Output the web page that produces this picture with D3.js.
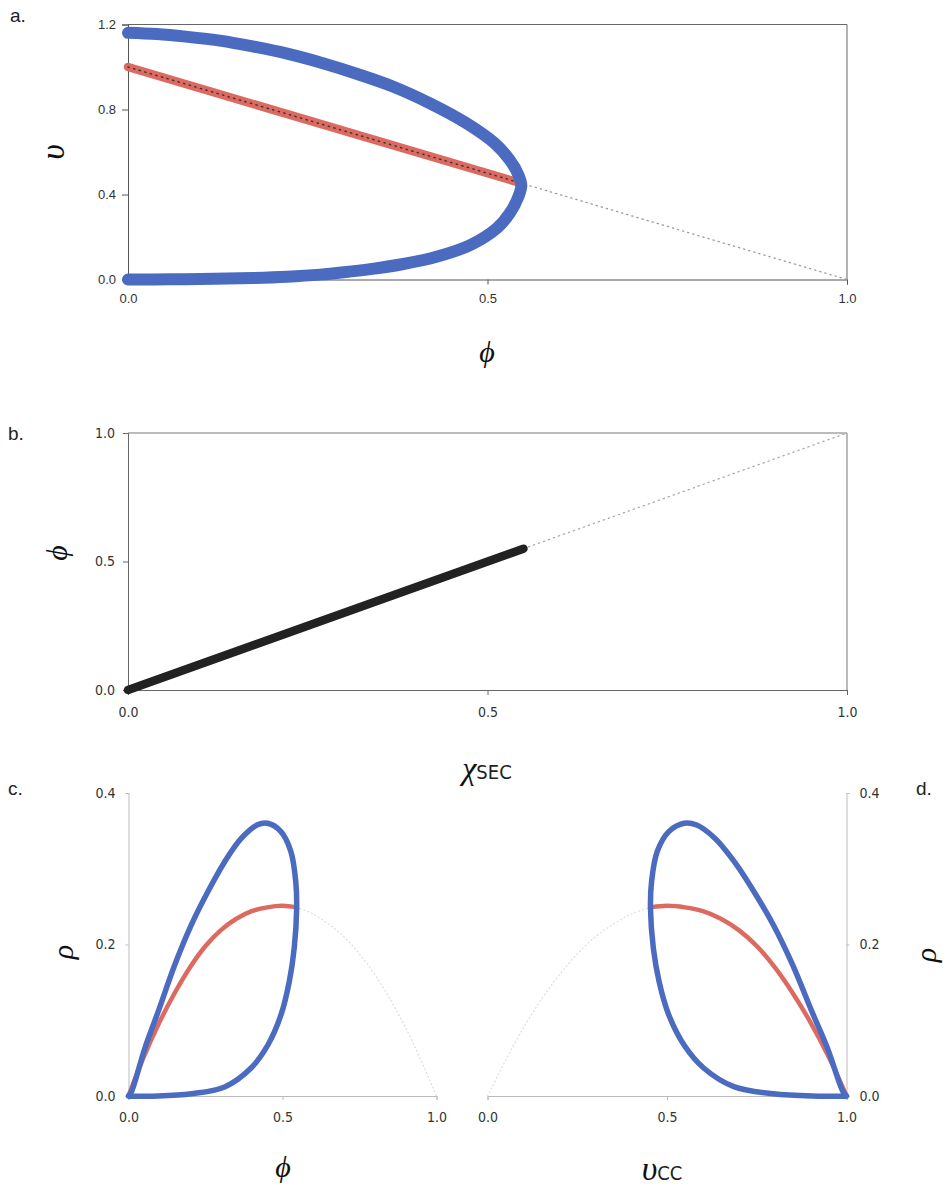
<!DOCTYPE html>
<html><head><meta charset="utf-8">
<script src="https://cdn.jsdelivr.net/npm/d3@7"></script>
<style>
body{margin:0;background:#fff;}
svg{display:block;}
.tick text{font-family:"Liberation Sans Narrow","DejaVu Sans Condensed",Arial,sans-serif;font-size:14px;fill:#333;}
.greek{font-family:"Liberation Serif","Times New Roman",serif;font-style:italic;fill:#111;}
.plab{font-family:"Liberation Sans",Arial,sans-serif;font-size:19px;fill:#222;}
</style></head>
<body>
<script>
// ---------- data ----------
// panel a: upsilon vs phi
const aPhiUpper = [0,0.04,0.08,0.13,0.17,0.22,0.27,0.32,0.37,0.42,0.47,0.51,0.531,0.543,0.547];
const aUpsUpper = [1.161,1.155,1.143,1.123,1.099,1.064,1.019,0.966,0.906,0.829,0.737,0.641,0.562,0.492,0.442];
const aPhiLower = [0.547,0.543,0.531,0.513,0.476,0.429,0.383,0.337,0.30,0.267,0.221,0.174,0.12,0.06,0];
const aUpsLower = [0.442,0.390,0.312,0.241,0.162,0.107,0.073,0.049,0.034,0.023,0.013,0.007,0.003,0.001,0];
const aRedPhi = [0,0.545];
const aRedUps = [1.0,0.455];
const aDotPhi = [0.545,1.0];
const aDotUps = [0.455,0.0];
const aXTicks = [0,0.5,1.0];
const aYTicks = [0,0.4,0.8,1.2];
// panel b: phi vs chi_SEC
const bChi = [0,0.55];
const bPhi = [0,0.55];
const bDotChi = [0.55,1.0];
const bDotPhi = [0.55,1.0];
const bXTicks = [0,0.5,1.0];
const bYTicks = [0,0.5,1.0];
// panel c: rho vs phi
const cPhi = [0,0.01,0.053,0.096,0.150,0.204,0.258,0.312,0.366,0.419,0.452,0.495,0.527,0.543,0.546,0.538,0.522,0.495,0.452,0.398,0.312,0.204,0.096,0];
const cRho = [0,0.006,0.063,0.111,0.173,0.226,0.270,0.309,0.340,0.358,0.360,0.349,0.323,0.283,0.248,0.195,0.151,0.107,0.067,0.037,0.012,0.003,0.0,0];
const cRedPhi = [0,0.05,0.1,0.15,0.2,0.25,0.3,0.35,0.4,0.45,0.5,0.545];
const cRedRho = [0,0.052,0.097,0.136,0.170,0.198,0.219,0.234,0.244,0.249,0.251,0.249];
const cDotPhi = [0.545,0.6,0.7,0.8,0.9,1.0];
const cDotRho = [0.249,0.24,0.21,0.16,0.09,0];
// panel d: rho vs upsilon_CC
const dU = [1,0.99,0.947,0.904,0.850,0.796,0.742,0.688,0.634,0.581,0.548,0.505,0.473,0.457,0.454,0.462,0.478,0.505,0.548,0.602,0.688,0.796,0.904,1];
const dRho = [0,0.006,0.063,0.111,0.173,0.226,0.270,0.309,0.340,0.358,0.360,0.349,0.323,0.283,0.248,0.195,0.151,0.107,0.067,0.037,0.012,0.003,0.0,0];
const dRedU = [1,0.95,0.9,0.85,0.8,0.75,0.7,0.65,0.6,0.55,0.5,0.455];
const dRedRho = [0,0.052,0.097,0.136,0.170,0.198,0.219,0.234,0.244,0.249,0.251,0.249];
const dDotU = [0,0.1,0.2,0.3,0.4,0.455];
const dDotRho = [0,0.09,0.16,0.21,0.24,0.249];
const cdXTicks = [0,0.5,1.0];
const cdYTicks = [0,0.2,0.4];

// ---------- helpers ----------
const BLUE = "#4a6bc0", RED = "#dc6a60";
const W = 943, H = 1189;
const svg = d3.select("body").append("svg").attr("width",W).attr("height",H);
const zip = (a,b)=>a.map((v,i)=>[v,b[i]]);
const fmt = d3.format(".1f");

function path(g, x, y, xs, ys, opts){
  const line = d3.line().x(d=>x(d[0])).y(d=>y(d[1])).curve(opts.curve||d3.curveCatmullRom.alpha(0.5));
  return g.append("path").datum(zip(xs,ys)).attr("d",line)
    .attr("fill","none").attr("stroke",opts.color).attr("stroke-width",opts.width)
    .attr("stroke-linecap",opts.cap||"round").attr("stroke-linejoin","round")
    .attr("stroke-dasharray",opts.dash||null).attr("opacity",opts.opacity||1);
}
function styleAxis(g, color){
  g.selectAll(".domain").attr("stroke",color);
  g.selectAll(".tick line").attr("stroke",color);
}
function greek(txt,x,y,size,rot){
  const t = svg.append("text").attr("class","greek").attr("x",x).attr("y",y)
    .attr("text-anchor","middle").attr("dominant-baseline","middle").style("font-size",size+"px").text(txt);
  if(rot) t.attr("transform",`rotate(${rot},${x},${y})`);
  return t;
}
function plab(txt,x,y){ svg.append("text").attr("class","plab").attr("x",x).attr("y",y).text(txt); }

// ---------- panel a ----------
{
  const x = d3.scaleLinear().domain([0,1]).range([128,847]);
  const y = d3.scaleLinear().domain([0,1.2]).range([279.5,24.5]);
  const g = svg.append("g");
  g.append("line").attr("x1",x(0)).attr("x2",x(1)).attr("y1",y(1.2)).attr("y2",y(1.2)).attr("stroke","#666");
  g.append("line").attr("x1",x(1)).attr("x2",x(1)).attr("y1",y(1.2)).attr("y2",y(0)).attr("stroke","#666");
  const ax = g.append("g").attr("transform",`translate(0,${y(0)})`)
    .call(d3.axisBottom(x).tickValues(aXTicks).tickFormat(fmt).tickSize(5).tickPadding(9));
  styleAxis(ax,"#555");
  const ay = g.append("g").attr("transform",`translate(${x(0)},0)`)
    .call(d3.axisLeft(y).tickValues(aYTicks).tickFormat(fmt).tickSize(6).tickPadding(6));
  styleAxis(ay,"#555");
  ax.selectAll(".tick text").style("font-family","Liberation Sans, Arial, sans-serif").style("font-size","13px");
  ay.selectAll(".tick text").style("font-family","Liberation Sans, Arial, sans-serif").style("font-size","13px");
  path(g,x,y,aDotPhi,aDotUps,{color:"#999",width:1.3,dash:"1.3 4",cap:"round",curve:d3.curveLinear});
  path(g,x,y,aRedPhi,aRedUps,{color:RED,width:8.5,curve:d3.curveLinear});
  path(g,x,y,aRedPhi,aRedUps,{color:"#333",width:1.4,dash:"1.3 4.5",curve:d3.curveLinear});
  path(g,x,y,aPhiUpper.concat(aPhiLower.slice(1)),aUpsUpper.concat(aUpsLower.slice(1)),{color:BLUE,width:12});
  greek("υ",56,152,34,-90);
  greek("ϕ",487,355,30,0);
  plab("a.",10,22);
}

// ---------- panel b ----------
{
  const x = d3.scaleLinear().domain([0,1]).range([128,847]);
  const y = d3.scaleLinear().domain([0,1]).range([690,433]);
  const g = svg.append("g");
  g.append("line").attr("x1",x(0)).attr("x2",x(1)).attr("y1",y(1)).attr("y2",y(1)).attr("stroke","#777");
  g.append("line").attr("x1",x(1)).attr("x2",x(1)).attr("y1",y(1)).attr("y2",y(0)).attr("stroke","#777");
  const ax = g.append("g").attr("transform",`translate(0,${y(0)})`)
    .call(d3.axisBottom(x).tickValues(bXTicks).tickFormat(fmt).tickSize(5).tickPadding(12));
  styleAxis(ax,"#666");
  const ay = g.append("g").attr("transform",`translate(${x(0)},0)`)
    .call(d3.axisLeft(y).tickValues(bYTicks).tickFormat(fmt).tickSize(5).tickPadding(8));
  styleAxis(ay,"#666");
  path(g,x,y,bDotChi,bDotPhi,{color:"#aaa",width:1.3,dash:"1.3 4",curve:d3.curveLinear});
  path(g,x,y,bChi,bPhi,{color:"#222",width:8.5,curve:d3.curveLinear});
  greek("ϕ",60,553,30,-90);
  const t = svg.append("text").attr("x",487).attr("y",779).attr("text-anchor","middle");
  t.append("tspan").attr("class","greek").style("font-size","32px").text("χ");
  t.append("tspan").style("font-family","Liberation Sans Narrow, DejaVu Sans Condensed, Arial, sans-serif").style("font-size","20px").attr("fill","#222").text("SEC");
  plab("b.",8,440);
}

// ---------- panel c ----------
{
  const x = d3.scaleLinear().domain([0,1]).range([128.5,436.5]);
  const y = d3.scaleLinear().domain([0,0.4]).range([1096,793]);
  const g = svg.append("g");
  const ax = g.append("g").attr("transform",`translate(0,${y(0)})`)
    .call(d3.axisBottom(x).tickValues(cdXTicks).tickFormat(fmt).tickSize(4).tickPadding(12));
  styleAxis(ax,"#bbb");
  const ay = g.append("g").attr("transform",`translate(${x(0)},0)`)
    .call(d3.axisLeft(y).tickValues(cdYTicks).tickFormat(fmt).tickSize(3).tickPadding(10));
  styleAxis(ay,"#bbb");
  path(g,x,y,cDotPhi,cDotRho,{color:"#ddd",width:1.2,dash:"1 3"});
  path(g,x,y,cRedPhi,cRedRho,{color:RED,width:4.5});
  path(g,x,y,cPhi,cRho,{color:BLUE,width:5.5});
  greek("ρ",66,952,30,-90);
  greek("ϕ",283,1170,30,0);
  plab("c.",8,795);
}

// ---------- panel d ----------
{
  const x = d3.scaleLinear().domain([0,1]).range([487.5,846.5]);
  const y = d3.scaleLinear().domain([0,0.4]).range([1096,793]);
  const g = svg.append("g");
  const ax = g.append("g").attr("transform",`translate(0,${y(0)})`)
    .call(d3.axisBottom(x).tickValues(cdXTicks).tickFormat(fmt).tickSize(4).tickPadding(12));
  styleAxis(ax,"#bbb");
  const ay = g.append("g").attr("transform",`translate(${x(1)},0)`)
    .call(d3.axisRight(y).tickValues(cdYTicks).tickFormat(fmt).tickSize(3).tickPadding(10));
  styleAxis(ay,"#bbb");
  path(g,x,y,dDotU,dDotRho,{color:"#ddd",width:1.2,dash:"1 3"});
  path(g,x,y,dRedU,dRedRho,{color:RED,width:4.5});
  path(g,x,y,dU,dRho,{color:BLUE,width:5.5});
  greek("ρ",929,955,30,-90);
  const t = svg.append("text").attr("x",662).attr("y",1180).attr("text-anchor","middle");
  t.append("tspan").attr("class","greek").style("font-size","34px").text("υ");
  t.append("tspan").style("font-family","Liberation Sans Narrow, DejaVu Sans Condensed, Arial, sans-serif").style("font-size","20px").attr("fill","#222").text("CC");
  plab("d.",916,795);
}
</script>
</body></html>
